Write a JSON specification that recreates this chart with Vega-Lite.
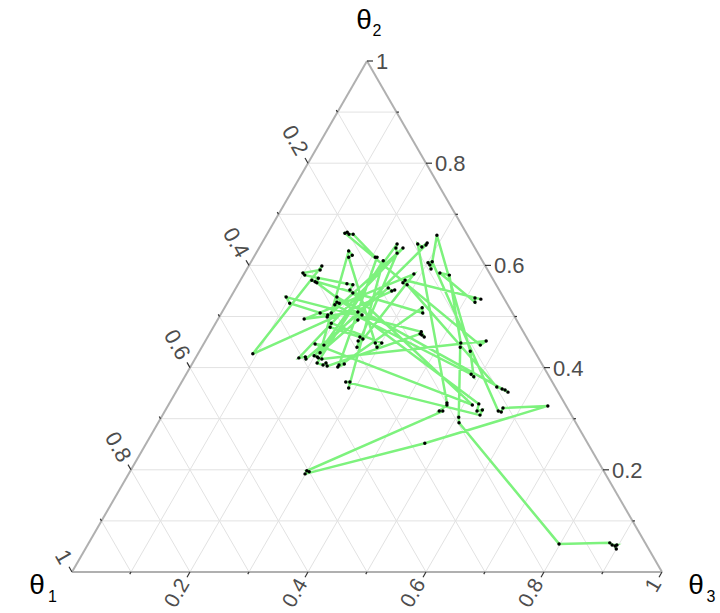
{
  "$schema": "https://vega.github.io/schema/vega-lite/v6.json",
  "width": 720,
  "height": 613,
  "padding": 0,
  "autosize": {"type": "none"},
  "background": "white",
  "config": {"view": {"stroke": null}},
  "datasets": {
    "scale": [
      {"axis":"t1","v":0},{"axis":"t1","v":0.1},{"axis":"t1","v":0.2},{"axis":"t1","v":0.3},{"axis":"t1","v":0.4},{"axis":"t1","v":0.5},{"axis":"t1","v":0.6},{"axis":"t1","v":0.7},{"axis":"t1","v":0.8},{"axis":"t1","v":0.9},{"axis":"t1","v":1},
      {"axis":"t2","v":0},{"axis":"t2","v":0.1},{"axis":"t2","v":0.2},{"axis":"t2","v":0.3},{"axis":"t2","v":0.4},{"axis":"t2","v":0.5},{"axis":"t2","v":0.6},{"axis":"t2","v":0.7},{"axis":"t2","v":0.8},{"axis":"t2","v":0.9},{"axis":"t2","v":1},
      {"axis":"t3","v":0},{"axis":"t3","v":0.1},{"axis":"t3","v":0.2},{"axis":"t3","v":0.3},{"axis":"t3","v":0.4},{"axis":"t3","v":0.5},{"axis":"t3","v":0.6},{"axis":"t3","v":0.7},{"axis":"t3","v":0.8},{"axis":"t3","v":0.9},{"axis":"t3","v":1}
    ],
    "titles": [
      {"axis":"t1","sym":"θ","sub":"1"},
      {"axis":"t2","sym":"θ","sub":"2"},
      {"axis":"t3","sym":"θ","sub":"3"}
    ],
    "pts": [
      {"step":1,"t1":0.055,"t2":0.045,"t3":0.900},
      {"step":2,"t1":0.054,"t2":0.051,"t3":0.895},
      {"step":3,"t1":0.050,"t2":0.053,"t3":0.897},
      {"step":4,"t1":0.058,"t2":0.053,"t3":0.889},
      {"step":5,"t1":0.060,"t2":0.057,"t3":0.883},
      {"step":6,"t1":0.147,"t2":0.055,"t3":0.798},
      {"step":7,"t1":0.198,"t2":0.292,"t3":0.510},
      {"step":8,"t1":0.193,"t2":0.303,"t3":0.504},
      {"step":9,"t1":0.122,"t2":0.440,"t3":0.438},
      {"step":10,"t1":0.117,"t2":0.448,"t3":0.435},
      {"step":11,"t1":0.070,"t2":0.581,"t3":0.349},
      {"step":12,"t1":0.084,"t2":0.585,"t3":0.331},
      {"step":13,"t1":0.053,"t2":0.528,"t3":0.419},
      {"step":14,"t1":0.049,"t2":0.536,"t3":0.415},
      {"step":15,"t1":0.040,"t2":0.534,"t3":0.426},
      {"step":16,"t1":0.150,"t2":0.571,"t3":0.279},
      {"step":17,"t1":0.156,"t2":0.566,"t3":0.278},
      {"step":18,"t1":0.151,"t2":0.562,"t3":0.287},
      {"step":19,"t1":0.099,"t2":0.362,"t3":0.539},
      {"step":20,"t1":0.092,"t2":0.358,"t3":0.550},
      {"step":21,"t1":0.088,"t2":0.356,"t3":0.556},
      {"step":22,"t1":0.085,"t2":0.352,"t3":0.563},
      {"step":23,"t1":0.282,"t2":0.538,"t3":0.180},
      {"step":24,"t1":0.287,"t2":0.528,"t3":0.185},
      {"step":25,"t1":0.284,"t2":0.526,"t3":0.190},
      {"step":26,"t1":0.293,"t2":0.523,"t3":0.184},
      {"step":27,"t1":0.130,"t2":0.387,"t3":0.483},
      {"step":28,"t1":0.128,"t2":0.382,"t3":0.490},
      {"step":29,"t1":0.109,"t2":0.432,"t3":0.459},
      {"step":30,"t1":0.052,"t2":0.659,"t3":0.289},
      {"step":31,"t1":0.095,"t2":0.593,"t3":0.312},
      {"step":32,"t1":0.093,"t2":0.601,"t3":0.306},
      {"step":33,"t1":0.094,"t2":0.605,"t3":0.301},
      {"step":34,"t1":0.086,"t2":0.607,"t3":0.307},
      {"step":35,"t1":0.120,"t2":0.315,"t3":0.565},
      {"step":36,"t1":0.116,"t2":0.313,"t3":0.571},
      {"step":37,"t1":0.109,"t2":0.321,"t3":0.570},
      {"step":38,"t1":0.031,"t2":0.325,"t3":0.644},
      {"step":39,"t1":0.276,"t2":0.252,"t3":0.472},
      {"step":40,"t1":0.509,"t2":0.192,"t3":0.299},
      {"step":41,"t1":0.500,"t2":0.196,"t3":0.304},
      {"step":42,"t1":0.503,"t2":0.198,"t3":0.299},
      {"step":43,"t1":0.214,"t2":0.315,"t3":0.471},
      {"step":44,"t1":0.220,"t2":0.315,"t3":0.465},
      {"step":45,"t1":0.201,"t2":0.327,"t3":0.472},
      {"step":46,"t1":0.199,"t2":0.331,"t3":0.470},
      {"step":47,"t1":0.093,"t2":0.642,"t3":0.265},
      {"step":48,"t1":0.089,"t2":0.636,"t3":0.275},
      {"step":49,"t1":0.076,"t2":0.644,"t3":0.280},
      {"step":50,"t1":0.080,"t2":0.640,"t3":0.280},
      {"step":51,"t1":0.378,"t2":0.423,"t3":0.199},
      {"step":52,"t1":0.374,"t2":0.421,"t3":0.205},
      {"step":53,"t1":0.373,"t2":0.419,"t3":0.208},
      {"step":54,"t1":0.368,"t2":0.417,"t3":0.215},
      {"step":55,"t1":0.072,"t2":0.452,"t3":0.476},
      {"step":56,"t1":0.086,"t2":0.444,"t3":0.470},
      {"step":57,"t1":0.206,"t2":0.663,"t3":0.131},
      {"step":58,"t1":0.201,"t2":0.665,"t3":0.134},
      {"step":59,"t1":0.200,"t2":0.661,"t3":0.139},
      {"step":60,"t1":0.193,"t2":0.661,"t3":0.146},
      {"step":61,"t1":0.178,"t2":0.616,"t3":0.206},
      {"step":62,"t1":0.175,"t2":0.616,"t3":0.209},
      {"step":63,"t1":0.345,"t2":0.405,"t3":0.250},
      {"step":64,"t1":0.335,"t2":0.407,"t3":0.258},
      {"step":65,"t1":0.349,"t2":0.401,"t3":0.250},
      {"step":66,"t1":0.148,"t2":0.517,"t3":0.335},
      {"step":67,"t1":0.152,"t2":0.507,"t3":0.341},
      {"step":68,"t1":0.308,"t2":0.571,"t3":0.121},
      {"step":69,"t1":0.304,"t2":0.568,"t3":0.128},
      {"step":70,"t1":0.295,"t2":0.575,"t3":0.130},
      {"step":71,"t1":0.302,"t2":0.566,"t3":0.132},
      {"step":72,"t1":0.146,"t2":0.329,"t3":0.525},
      {"step":73,"t1":0.156,"t2":0.315,"t3":0.529},
      {"step":74,"t1":0.146,"t2":0.317,"t3":0.537},
      {"step":75,"t1":0.155,"t2":0.307,"t3":0.538},
      {"step":76,"t1":0.350,"t2":0.372,"t3":0.278},
      {"step":77,"t1":0.343,"t2":0.372,"t3":0.285},
      {"step":78,"t1":0.351,"t2":0.360,"t3":0.289},
      {"step":79,"t1":0.168,"t2":0.609,"t3":0.223},
      {"step":80,"t1":0.380,"t2":0.409,"t3":0.211},
      {"step":81,"t1":0.372,"t2":0.405,"t3":0.223},
      {"step":82,"t1":0.365,"t2":0.409,"t3":0.226},
      {"step":83,"t1":0.366,"t2":0.403,"t3":0.231},
      {"step":84,"t1":0.177,"t2":0.466,"t3":0.357},
      {"step":85,"t1":0.175,"t2":0.464,"t3":0.361},
      {"step":86,"t1":0.173,"t2":0.460,"t3":0.367},
      {"step":87,"t1":0.173,"t2":0.470,"t3":0.357},
      {"step":88,"t1":0.368,"t2":0.538,"t3":0.094},
      {"step":89,"t1":0.368,"t2":0.526,"t3":0.106},
      {"step":90,"t1":0.326,"t2":0.507,"t3":0.167},
      {"step":91,"t1":0.315,"t2":0.503,"t3":0.182},
      {"step":92,"t1":0.307,"t2":0.507,"t3":0.186},
      {"step":93,"t1":0.318,"t2":0.499,"t3":0.183},
      {"step":94,"t1":0.122,"t2":0.634,"t3":0.244},
      {"step":95,"t1":0.406,"t2":0.419,"t3":0.175},
      {"step":96,"t1":0.394,"t2":0.421,"t3":0.185},
      {"step":97,"t1":0.395,"t2":0.417,"t3":0.188},
      {"step":98,"t1":0.186,"t2":0.556,"t3":0.258},
      {"step":99,"t1":0.183,"t2":0.550,"t3":0.267},
      {"step":100,"t1":0.177,"t2":0.552,"t3":0.271},
      {"step":101,"t1":0.480,"t2":0.427,"t3":0.093},
      {"step":102,"t1":0.277,"t2":0.599,"t3":0.124},
      {"step":103,"t1":0.284,"t2":0.591,"t3":0.125},
      {"step":104,"t1":0.316,"t2":0.585,"t3":0.099},
      {"step":105,"t1":0.315,"t2":0.581,"t3":0.104},
      {"step":106,"t1":0.252,"t2":0.564,"t3":0.184},
      {"step":107,"t1":0.243,"t2":0.562,"t3":0.195},
      {"step":108,"t1":0.253,"t2":0.552,"t3":0.195},
      {"step":109,"t1":0.251,"t2":0.546,"t3":0.203},
      {"step":110,"t1":0.158,"t2":0.327,"t3":0.515},
      {"step":111,"t1":0.365,"t2":0.446,"t3":0.189},
      {"step":112,"t1":0.351,"t2":0.444,"t3":0.205},
      {"step":113,"t1":0.128,"t2":0.642,"t3":0.230},
      {"step":114,"t1":0.134,"t2":0.634,"t3":0.232},
      {"step":115,"t1":0.137,"t2":0.624,"t3":0.239},
      {"step":116,"t1":0.297,"t2":0.440,"t3":0.263},
      {"step":117,"t1":0.129,"t2":0.583,"t3":0.288},
      {"step":118,"t1":0.359,"t2":0.495,"t3":0.146},
      {"step":119,"t1":0.261,"t2":0.509,"t3":0.230},
      {"step":120,"t1":0.257,"t2":0.503,"t3":0.240},
      {"step":121,"t1":0.269,"t2":0.493,"t3":0.238},
      {"step":122,"t1":0.365,"t2":0.429,"t3":0.206},
      {"step":123,"t1":0.217,"t2":0.628,"t3":0.155},
      {"step":124,"t1":0.215,"t2":0.620,"t3":0.165},
      {"step":125,"t1":0.223,"t2":0.616,"t3":0.161},
      {"step":126,"t1":0.262,"t2":0.448,"t3":0.290},
      {"step":127,"t1":0.263,"t2":0.440,"t3":0.297},
      {"step":128,"t1":0.251,"t2":0.448,"t3":0.301},
      {"step":129,"t1":0.317,"t2":0.487,"t3":0.196},
      {"step":130,"t1":0.323,"t2":0.479,"t3":0.198},
      {"step":131,"t1":0.282,"t2":0.460,"t3":0.258},
      {"step":132,"t1":0.279,"t2":0.456,"t3":0.265},
      {"step":133,"t1":0.289,"t2":0.452,"t3":0.259}
    ]
  },
  "encoding": {
    "x": {"field": "x", "type": "quantitative", "scale": {"domain": [-0.12203, 1.09831], "nice": false, "zero": false}, "axis": null},
    "y": {"field": "y", "type": "quantitative", "scale": {"domain": [-0.08023, 1.11937], "nice": false, "zero": false}, "axis": null}
  },
  "layer": [
    {
      "data": {"name": "scale"},
      "transform": [
        {"filter": "datum.v > 0 && datum.v < 1"},
        {"calculate": "datum.axis == 't2' ? datum.v : 0", "as": "a2"},
        {"calculate": "datum.axis == 't2' ? 0 : (datum.axis == 't3' ? datum.v : 1 - datum.v)", "as": "a3"},
        {"calculate": "datum.axis == 't2' ? datum.v : 1 - datum.v", "as": "b2"},
        {"calculate": "datum.axis == 't2' ? 1 - datum.v : (datum.axis == 't3' ? datum.v : 0)", "as": "b3"},
        {"calculate": "datum.a3 + datum.a2 / 2", "as": "x"},
        {"calculate": "datum.a2", "as": "y"},
        {"calculate": "datum.b3 + datum.b2 / 2", "as": "x2"},
        {"calculate": "datum.b2", "as": "y2"}
      ],
      "mark": {"type": "rule", "color": "#E2E2E2", "strokeWidth": 1},
      "encoding": {"x2": {"field": "x2"}, "y2": {"field": "y2"}}
    },
    {
      "data": {"name": "scale"},
      "transform": [
        {"filter": "datum.v == 0"},
        {"calculate": "datum.axis == 't2' ? datum.v : 0", "as": "a2"},
        {"calculate": "datum.axis == 't2' ? 0 : (datum.axis == 't3' ? datum.v : 1 - datum.v)", "as": "a3"},
        {"calculate": "datum.axis == 't2' ? datum.v : 1 - datum.v", "as": "b2"},
        {"calculate": "datum.axis == 't2' ? 1 - datum.v : (datum.axis == 't3' ? datum.v : 0)", "as": "b3"},
        {"calculate": "datum.a3 + datum.a2 / 2", "as": "x"},
        {"calculate": "datum.a2", "as": "y"},
        {"calculate": "datum.b3 + datum.b2 / 2", "as": "x2"},
        {"calculate": "datum.b2", "as": "y2"}
      ],
      "mark": {"type": "rule", "color": "#B0B0B0", "strokeWidth": 2},
      "encoding": {"x2": {"field": "x2"}, "y2": {"field": "y2"}}
    },
    {
      "data": {"name": "scale"},
      "transform": [
        {"filter": "datum.v > 0"},
        {"calculate": "datum.axis == 't2' ? datum.v : (datum.axis == 't1' ? 1 - datum.v : 0)", "as": "e2"},
        {"calculate": "datum.axis == 't2' ? 1 - datum.v : (datum.axis == 't1' ? 0 : datum.v)", "as": "e3"},
        {"calculate": "datum.e3 + datum.e2 / 2", "as": "x"},
        {"calculate": "datum.e2", "as": "y"},
        {"calculate": "datum.axis == 't2' ? 1 : -0.5", "as": "ux"},
        {"calculate": "datum.axis == 't2' ? 0 : (datum.axis == 't1' ? -0.866 : 0.866)", "as": "uy"},
        {"calculate": "abs(datum.v * 5 - round(datum.v * 5)) < 0.001 ? 6 : 2.5", "as": "len"},
        {"calculate": "datum.x + datum.ux * datum.len / 590", "as": "x2"},
        {"calculate": "datum.y - datum.uy * datum.len / 511", "as": "y2"}
      ],
      "mark": {"type": "rule", "color": "#333333", "strokeWidth": 1.2},
      "encoding": {"x2": {"field": "x2"}, "y2": {"field": "y2"}}
    },
    {
      "data": {"name": "scale"},
      "transform": [
        {"filter": "datum.axis == 't2' && datum.v > 0 && abs(datum.v * 5 - round(datum.v * 5)) < 0.001"},
        {"calculate": "datum.v", "as": "y"},
        {"calculate": "1 - datum.v + datum.v / 2", "as": "x"}
      ],
      "mark": {"type": "text", "align": "left", "baseline": "middle", "dx": 9, "dy": 1, "font": "Liberation Sans", "fontSize": 22, "color": "#4D4D4D"},
      "encoding": {"text": {"field": "v", "type": "quantitative", "format": ".1~f"}}
    },
    {
      "data": {"name": "scale"},
      "transform": [
        {"filter": "datum.axis == 't1' && datum.v > 0 && abs(datum.v * 5 - round(datum.v * 5)) < 0.001"},
        {"calculate": "(1 - datum.v) / 2 - 0.5 * 11 / 590", "as": "x"},
        {"calculate": "1 - datum.v + 0.866 * 11 / 511", "as": "y"}
      ],
      "mark": {"type": "text", "align": "right", "baseline": "middle", "angle": 60, "font": "Liberation Sans", "fontSize": 22, "color": "#4D4D4D"},
      "encoding": {"text": {"field": "v", "type": "quantitative", "format": ".1~f"}}
    },
    {
      "data": {"name": "scale"},
      "transform": [
        {"filter": "datum.axis == 't3' && datum.v > 0 && abs(datum.v * 5 - round(datum.v * 5)) < 0.001"},
        {"calculate": "datum.v - 0.5 * 10 / 590", "as": "x"},
        {"calculate": "0 - 0.866 * 10 / 511", "as": "y"}
      ],
      "mark": {"type": "text", "align": "right", "baseline": "middle", "angle": 300, "font": "Liberation Sans", "fontSize": 21, "color": "#4D4D4D"},
      "encoding": {"text": {"field": "v", "type": "quantitative", "format": ".1~f"}}
    },
    {
      "data": {"name": "pts"},
      "transform": [
        {"calculate": "datum.t3 + datum.t2 / 2", "as": "x"},
        {"calculate": "datum.t2", "as": "y"}
      ],
      "mark": {"type": "line", "color": "#7DF27D", "strokeWidth": 2.5},
      "encoding": {"order": {"field": "step", "type": "quantitative"}}
    },
    {
      "data": {"name": "pts"},
      "transform": [
        {"calculate": "datum.t3 + datum.t2 / 2", "as": "x"},
        {"calculate": "datum.t2", "as": "y"}
      ],
      "mark": {"type": "circle", "color": "black", "size": 12, "opacity": 1}
    },
    {
      "data": {"name": "titles"},
      "transform": [
        {"calculate": "datum.axis == 't3' ? 1 : (datum.axis == 't2' ? 0.5 : 0)", "as": "vx"},
        {"calculate": "datum.axis == 't2' ? 1 : 0", "as": "vy"},
        {"calculate": "datum.vx + (datum.axis == 't1' ? -35 : (datum.axis == 't2' ? -3 : 34)) / 590", "as": "x"},
        {"calculate": "datum.vy - (datum.axis == 't2' ? -40 : 14) / 511", "as": "y"}
      ],
      "mark": {"type": "text", "align": "center", "baseline": "middle", "font": "Liberation Sans", "fontSize": 28, "color": "black"},
      "encoding": {"text": {"field": "sym"}}
    },
    {
      "data": {"name": "titles"},
      "transform": [
        {"calculate": "datum.axis == 't3' ? 1 : (datum.axis == 't2' ? 0.5 : 0)", "as": "vx"},
        {"calculate": "datum.axis == 't2' ? 1 : 0", "as": "vy"},
        {"calculate": "datum.vx + (datum.axis == 't1' ? -19.5 : (datum.axis == 't2' ? 10 : 49)) / 590", "as": "x"},
        {"calculate": "datum.vy - (datum.axis == 't2' ? -30 : 25) / 511", "as": "y"}
      ],
      "mark": {"type": "text", "align": "center", "baseline": "middle", "font": "Liberation Sans", "fontSize": 16, "color": "black"},
      "encoding": {"text": {"field": "sub"}}
    }
  ]
}
